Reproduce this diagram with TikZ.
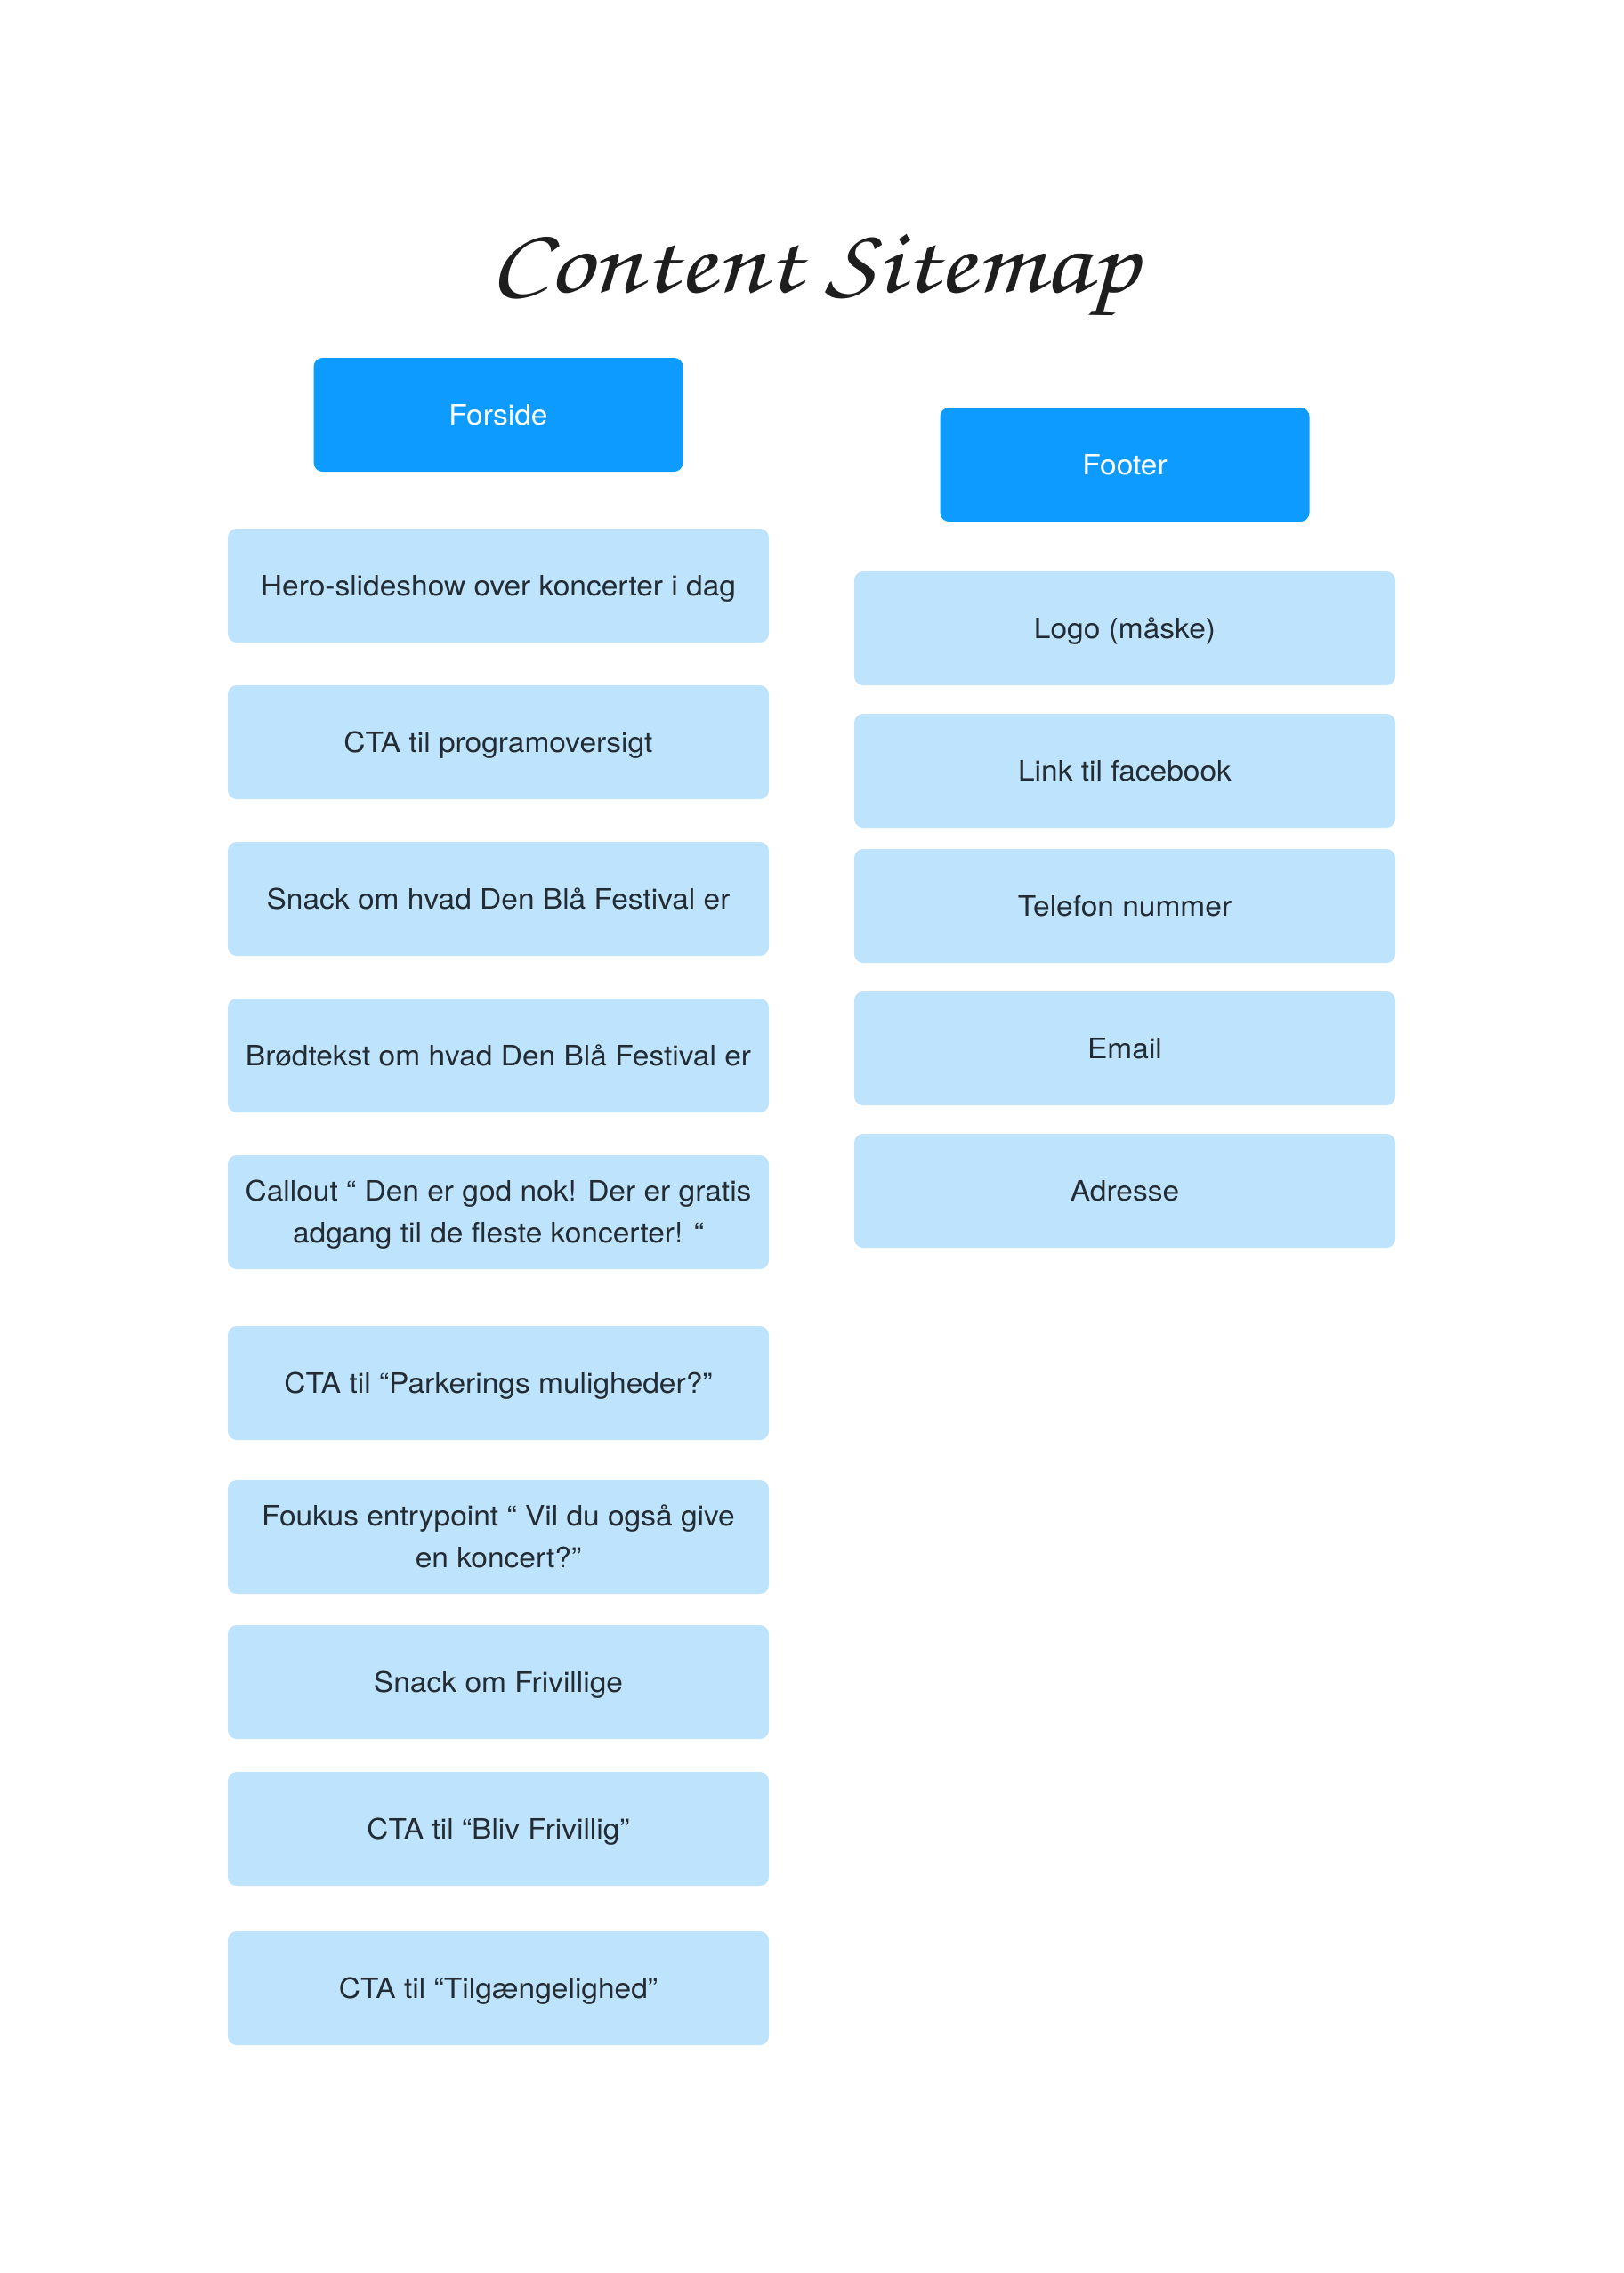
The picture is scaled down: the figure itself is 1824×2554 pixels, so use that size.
\documentclass[tikz,border=0pt]{standalone}
\usepackage{fontspec}
\setmainfont{TeX Gyre Heros}[FakeStretch=1.06]
\newfontfamily\titlefont{TeX Gyre Chorus}[FakeStretch=1.18]
\definecolor{headblue}{HTML}{0E9BFF}
\definecolor{lightblue}{HTML}{BEE3FC}
\definecolor{textdark}{HTML}{232B33}
\definecolor{titledark}{HTML}{1E1E1E}
\tikzset{
  box/.style={rounded corners=10pt, minimum width=608pt, minimum height=128pt,
    inner sep=0pt, align=center, font=\fontsize{31.6}{47}\selectfont,
    text height=22.7pt, text depth=0pt},
  lbox/.style={box, fill=lightblue, text=textdark},
  hbox/.style={box, fill=headblue, text=white, minimum width=415pt},
  twoline/.style={text height=69.7pt},
  titlestyle/.style={font=\titlefont\fontsize{105}{105}\selectfont, text=titledark, inner sep=0pt, anchor=base}
}
\begin{document}
\begin{tikzpicture}[x=1pt,y=-1pt]
\useasboundingbox[fill=white] (0,0) rectangle (1824,2554);
\node[titlestyle] (title) at (915,328) {Content Sitemap};
% left column
\node[hbox] (forside) at (560,466) {Forside};
\node[lbox] (hero) at (560,658) {Hero-slideshow over koncerter i dag};
\node[lbox] (cta1) at (560,834) {CTA til programoversigt};
\node[lbox] (snack1) at (560,1010) {Snack om hvad Den Blå Festival er};
\node[lbox] (brod) at (560,1186) {Brødtekst om hvad Den Blå Festival er};
\node[lbox,twoline] (callout) at (560,1362) {Callout “ Den er god nok! Der er gratis\\adgang til de fleste koncerter! “};
\node[lbox] (parking) at (560,1554) {CTA til “Parkerings muligheder?”};
\node[lbox,twoline] (foukus) at (560,1727) {Foukus entrypoint “ Vil du også give\\en koncert?”};
\node[lbox] (snack2) at (560,1890) {Snack om Frivillige};
\node[lbox] (bliv) at (560,2055) {CTA til “Bliv Frivillig”};
\node[lbox] (tilg) at (560,2234) {CTA til “Tilgængelighed”};
% right column
\node[hbox] (footer) at (1264,522) {Footer};
\node[lbox] (logo) at (1264,706) {Logo (måske)};
\node[lbox] (link) at (1264,866) {Link til facebook};
\node[lbox] (tel) at (1264,1018) {Telefon nummer};
\node[lbox] (email) at (1264,1178) {Email};
\node[lbox] (adresse) at (1264,1338) {Adresse};
\end{tikzpicture}
\end{document}
